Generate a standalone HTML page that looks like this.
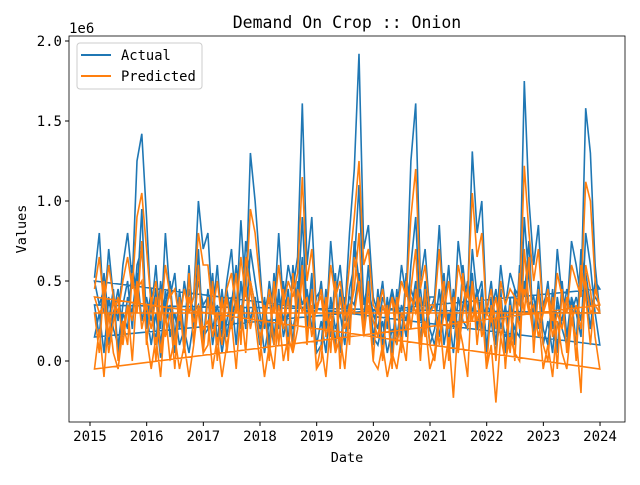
<!DOCTYPE html>
<html><head><meta charset="utf-8"><style>
body{margin:0;background:#fff}
svg text{font-family:"DejaVu Sans Mono","Liberation Mono",monospace;fill:#000}
</style></head><body>
<svg width="640" height="480" id="c" xmlns="http://www.w3.org/2000/svg">
<rect width="640" height="480" fill="#fff"/>
<text x="347" y="28" font-size="16.5" text-anchor="middle">Demand On Crop :: Onion</text>
<text x="69" y="33" font-size="14">1e6</text>
<text x="347" y="462" font-size="13.5" text-anchor="middle">Date</text>
<text x="26" y="229" font-size="13.5" text-anchor="middle" transform="rotate(-90 26 229)">Values</text>
<g id="plot"></g>
<g id="axes"></g>
<g>
<rect x="77" y="43" width="125" height="46" rx="3" fill="#fff" fill-opacity="0.8" stroke="#ccc"/>
<line x1="81" y1="55" x2="111" y2="55" stroke="#1f77b4" stroke-width="2"/>
<text x="121" y="60" font-size="13.8">Actual</text>
<line x1="81" y1="76" x2="111" y2="76" stroke="#ff7f0e" stroke-width="2"/>
<text x="121" y="81" font-size="13.8">Predicted</text>
</g>
</svg>
<script>
const xTicks=[2015,2016,2017,2018,2019,2020,2021,2022,2023,2024];
const yTicks=[0.0,0.5,1.0,1.5,2.0];
const yTickLabels=["0.0","0.5","1.0","1.5","2.0"];
const startYear=2015.08;
const actualPass1=[0.52,0.8,0.3,0.7,0.4,0.25,0.6,0.8,0.5,1.25,1.42,0.9,
0.3,0.6,0.2,0.8,0.4,0.55,0.2,0.5,0.3,0.4,1.0,0.7,
0.8,0.3,0.6,0.2,0.5,0.7,0.3,0.88,0.4,1.3,1.0,0.6,
0.2,0.5,0.3,0.8,0.35,0.6,0.45,0.65,1.61,0.6,0.9,0.3,
0.5,0.2,0.75,0.4,0.6,0.3,0.8,1.2,1.92,0.7,0.85,0.4,
0.3,0.5,0.2,0.45,0.3,0.6,0.4,1.25,1.61,0.5,0.7,0.3,
0.4,0.85,0.3,0.6,0.2,0.75,0.5,0.4,1.31,0.8,1.0,0.3,
0.5,0.2,0.6,0.35,0.55,0.45,0.4,1.75,1.0,0.6,0.85,0.3,
0.5,0.2,0.7,0.4,0.3,0.75,0.6,0.4,1.58,1.3,0.6,0.3];
const actualPass2=[0.15,0.3,0.05,0.4,0.2,0.1,0.35,0.5,0.2,0.6,0.7,0.3,
0.1,0.3,0.02,0.45,0.15,0.3,0.1,0.2,0.05,0.25,0.5,0.35,
0.4,0.1,0.3,0.05,0.25,0.4,0.1,0.5,0.2,0.7,0.5,0.3,
0.05,0.25,0.1,0.45,0.15,0.3,0.2,0.35,0.9,0.3,0.5,0.1,
0.25,0.05,0.4,0.2,0.3,0.1,0.45,0.6,1.1,0.35,0.5,0.15,
0.1,0.25,0.05,0.2,0.1,0.3,0.15,0.6,0.9,0.25,0.4,0.1,
0.2,0.45,0.1,0.3,0.05,0.4,0.25,0.2,0.7,0.4,0.5,0.1,
0.25,0.05,0.3,0.15,0.3,0.2,0.15,0.9,0.5,0.3,0.45,0.1,
0.25,0.05,0.4,0.2,0.1,0.4,0.3,0.15,0.8,0.6,0.3,0.1];
const actualPass3=[0.35,0.15,0.55,0.25,0.45,0.05,0.3,0.2,0.6,0.4,0.95,0.2,
0.45,0.1,0.5,0.25,0.35,0.05,0.45,0.15,0.6,0.2,0.7,0.15,
0.2,0.55,0.1,0.45,0.15,0.35,0.6,0.2,0.75,0.5,0.35,0.1,
0.4,0.1,0.55,0.2,0.5,0.1,0.6,0.3,0.65,0.2,0.55,0.05,
0.1,0.45,0.15,0.55,0.05,0.4,0.2,0.75,0.5,0.25,0.6,0.1,
0.45,0.1,0.4,0.05,0.45,0.15,0.55,0.3,0.5,0.1,0.5,0.2,
0.1,0.3,0.55,0.1,0.45,0.15,0.6,0.3,0.55,0.2,0.45,0.05,
0.4,0.1,0.45,0.05,0.4,0.1,0.6,0.4,0.75,0.15,0.5,0.2,
0.1,0.45,0.05,0.5,0.15,0.4,0.1,0.7,0.45,0.2,0.5,0.45];
const actualPass4=[0.5,0.35,0.45,0.1,0.3,0.45,0.15,0.4,0.3,0.55,0.25,0.4,
0.25,0.45,0.1,0.35,0.5,0.15,0.4,0.1,0.45,0.3,0.35,0.1,
0.45,0.2,0.35,0.15,0.45,0.25,0.4,0.3,0.5,0.25,0.4,0.2,
0.3,0.45,0.15,0.4,0.25,0.45,0.1,0.5,0.35,0.45,0.2,0.4,
0.45,0.2,0.35,0.1,0.45,0.25,0.4,0.35,0.55,0.2,0.45,0.3,
0.2,0.4,0.3,0.45,0.15,0.35,0.25,0.45,0.35,0.45,0.2,0.4,
0.4,0.15,0.35,0.25,0.4,0.1,0.35,0.5,0.3,0.45,0.2,0.35,
0.3,0.45,0.2,0.35,0.1,0.45,0.25,0.5,0.35,0.4,0.2,0.35,
0.45,0.2,0.35,0.25,0.45,0.3,0.4,0.25,0.55,0.35,0.4,0.35];
const predPass1=[0.45,0.65,0.35,0.6,0.4,0.3,0.5,0.65,0.45,0.9,1.05,0.7,
0.35,0.5,0.25,0.6,0.4,0.45,0.25,0.45,0.3,0.4,0.8,0.6,
0.6,0.3,0.5,0.25,0.45,0.55,0.3,0.65,0.4,0.95,0.8,0.5,
0.25,0.45,0.3,0.6,0.35,0.5,0.4,0.55,1.15,0.5,0.7,0.3,
0.45,0.25,0.6,0.4,0.5,0.3,0.6,0.9,1.25,0.6,0.7,0.35,
0.3,0.45,0.25,0.4,0.3,0.5,0.4,0.9,1.2,0.45,0.6,0.3,
0.35,0.7,0.3,0.5,0.25,0.6,0.45,0.4,1.05,0.65,0.8,0.3,
0.45,0.2,0.5,0.35,0.45,0.4,0.35,1.22,0.8,0.5,0.7,0.3,
0.45,0.25,0.55,0.4,0.3,0.6,0.5,0.4,1.12,1.0,0.5,0.3];
const predPass2=[-0.05,0.2,-0.1,0.3,0.05,-0.05,0.2,0.35,0.0,0.45,0.5,0.15,
-0.05,0.15,-0.1,0.3,0.0,0.15,-0.05,0.1,-0.1,0.1,0.35,0.2,
0.25,-0.05,0.15,-0.1,0.1,0.25,-0.05,0.35,0.05,0.5,0.35,0.15,
-0.1,0.1,-0.05,0.3,0.0,0.15,0.05,0.2,0.6,0.15,0.35,-0.05,
0.1,-0.1,0.25,0.05,0.15,-0.05,0.3,0.45,0.8,0.2,0.35,0.0,
-0.05,0.1,-0.1,0.05,-0.05,0.15,0.0,0.45,0.7,0.1,0.25,-0.05,
0.05,0.3,-0.05,0.15,-0.23,0.25,0.1,-0.1,0.5,0.25,0.35,-0.05,
0.1,-0.26,0.15,0.0,0.15,0.05,0.0,0.7,0.35,0.15,0.3,-0.05,
0.1,-0.1,0.25,0.05,-0.05,0.25,0.15,-0.2,0.6,0.45,0.15,-0.05];
const predPass3=[0.3,0.05,0.5,0.15,0.4,0.0,0.25,0.1,0.55,0.3,0.75,0.1,
0.4,0.0,0.45,0.15,0.3,-0.05,0.4,0.05,0.55,0.1,0.6,0.05,
0.1,0.5,0.0,0.4,0.05,0.3,0.55,0.1,0.65,0.45,0.25,0.0,
0.35,0.0,0.5,0.1,0.45,0.0,0.55,0.2,0.55,0.1,0.45,-0.05,
0.0,0.4,0.05,0.5,-0.05,0.35,0.1,0.65,0.45,0.15,0.5,0.0,
0.4,0.0,0.35,-0.05,0.4,0.05,0.5,0.2,0.45,0.0,0.45,0.1,
0.0,0.25,0.5,0.0,0.4,0.05,0.55,0.2,0.5,0.1,0.4,-0.05,
0.35,0.0,0.4,-0.05,0.35,0.0,0.55,0.3,0.65,0.05,0.45,0.1,
0.0,0.4,-0.05,0.45,0.05,0.35,0.0,0.6,0.4,0.1,0.45,0.35];
const predPass4=[0.4,0.3,0.35,0.05,0.25,0.4,0.1,0.35,0.25,0.5,0.2,0.35,
0.2,0.4,0.05,0.3,0.45,0.1,0.35,0.05,0.4,0.25,0.3,0.05,
0.4,0.15,0.3,0.1,0.4,0.2,0.35,0.25,0.45,0.2,0.35,0.15,
0.25,0.4,0.1,0.35,0.2,0.4,0.05,0.45,0.3,0.4,0.15,0.35,
0.4,0.15,0.3,0.05,0.4,0.2,0.35,0.3,0.5,0.15,0.4,0.25,
0.15,0.35,0.25,0.4,0.1,0.3,0.2,0.4,0.3,0.4,0.15,0.35,
0.35,0.1,0.3,0.2,0.35,0.05,0.3,0.45,0.25,0.4,0.15,0.3,
0.25,0.4,0.15,0.3,0.05,0.4,0.2,0.45,0.3,0.35,0.15,0.3,
0.4,0.15,0.3,0.2,0.4,0.25,0.35,0.2,0.5,0.3,0.35,0.3];

const X0=69,X1=625,Y0=36,Y1=422;
const xs=y=>90+(y-2015)*56.67;
const ys=v=>361-v*160;
const NS="http://www.w3.org/2000/svg";
const plot=document.getElementById('plot'),axes=document.getElementById('axes');
function dateOf(i){return startYear+i/12;}
function line(passes,color,name){
  const pts=[];
  passes.forEach(pass=>pass.forEach((v,i)=>pts.push(xs(dateOf(i)).toFixed(1)+','+ys(v).toFixed(1))));
  const p=document.createElementNS(NS,'polyline');
  p.setAttribute('points',pts.join(' '));
  p.setAttribute('fill','none');p.setAttribute('stroke',color);p.setAttribute('stroke-width','1.6');
  
  
  plot.appendChild(p);
}
line([actualPass1,actualPass3,actualPass2,actualPass4],'#1f77b4','actual-line');
line([predPass1,predPass3,predPass2,predPass4],'#ff7f0e','predicted-line');
const frame=document.createElementNS(NS,'rect');
frame.setAttribute('x',X0);frame.setAttribute('y',Y0);frame.setAttribute('width',X1-X0);frame.setAttribute('height',Y1-Y0);
frame.setAttribute('fill','none');frame.setAttribute('stroke','#000');frame.setAttribute('stroke-width','0.8');


axes.appendChild(frame);
xTicks.forEach(t=>{
  const x=xs(t);
  const l=document.createElementNS(NS,'line');
  l.setAttribute('x1',x);l.setAttribute('x2',x);l.setAttribute('y1',Y1);l.setAttribute('y2',Y1+4);l.setAttribute('stroke','#000');
  
  
  axes.appendChild(l);
  const tx=document.createElementNS(NS,'text');
  tx.setAttribute('x',x);tx.setAttribute('y',Y1+19);tx.setAttribute('font-size','14');tx.setAttribute('text-anchor','middle');
  tx.textContent=t;
  
  
  axes.appendChild(tx);
});
yTicks.forEach((t,i)=>{
  const y=ys(t);
  const l=document.createElementNS(NS,'line');
  l.setAttribute('x1',X0-4);l.setAttribute('x2',X0);l.setAttribute('y1',y);l.setAttribute('y2',y);l.setAttribute('stroke','#000');
  
  
  axes.appendChild(l);
  const tx=document.createElementNS(NS,'text');
  tx.setAttribute('x',X0-7);tx.setAttribute('y',y+5);tx.setAttribute('font-size','14');tx.setAttribute('text-anchor','end');
  tx.textContent=yTickLabels[i];
  
  
  axes.appendChild(tx);
});
</script>
</body></html>
